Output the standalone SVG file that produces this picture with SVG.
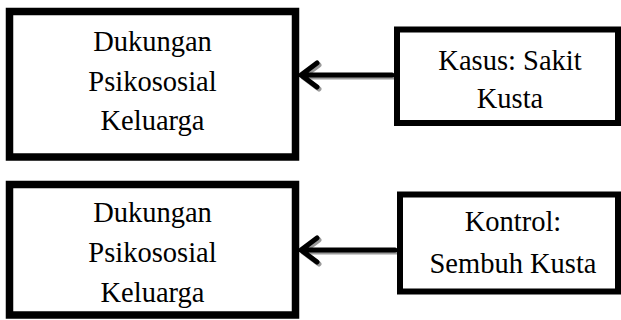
<svg xmlns="http://www.w3.org/2000/svg" width="621" height="320" viewBox="0 0 621 320">
<style>
.box{fill:#fff;stroke:#000}
.big{stroke-width:7.5}
.small{stroke-width:6}
.t{font-size:28.5px;fill:#000;text-anchor:middle}
.arr{fill:none;stroke-width:5;stroke-linecap:round;stroke-linejoin:round}
.sh{stroke:#9a9a9a}
.fg{stroke:#000}
</style>
<rect width="621" height="320" fill="#fff"/>
<g id="connectors">
<g id="arrow-top">
<path class="arr sh" d="M394 77 H303 M319 65 L303 77 L319 89"/>
<path class="arr fg" d="M392 75 H301 M317 63 L301 75 L317 87"/>
</g>
<g id="arrow-bottom">
<path class="arr sh" d="M397 252 H303 M319 240 L303 252 L319 264"/>
<path class="arr fg" d="M395 250 H301 M317 238 L301 250 L317 262"/>
</g>
</g>
<g font-family="Liberation Serif, Times New Roman, DejaVu Serif, serif">
<g id="node-dukungan-1">
<rect class="box big" x="9.5" y="11.5" width="286" height="145.5"/>
<text class="t" x="152.5" y="51">Dukungan</text>
<text class="t" x="152.5" y="91">Psikososial</text>
<text class="t" x="152.5" y="130">Keluarga</text>
</g>
<g id="node-kasus">
<rect class="box small" x="397" y="29.5" width="221" height="93.5"/>
<text class="t" x="510" y="70">Kasus: Sakit</text>
<text class="t" x="510" y="108">Kusta</text>
</g>
<g id="node-dukungan-2">
<rect class="box big" x="9.5" y="184.5" width="286" height="130.5"/>
<text class="t" x="152.5" y="222">Dukungan</text>
<text class="t" x="152.5" y="262">Psikososial</text>
<text class="t" x="152.5" y="302">Keluarga</text>
</g>
<g id="node-kontrol">
<rect class="box small" x="400" y="194.5" width="218" height="97"/>
<text class="t" x="513" y="231">Kontrol:</text>
<text class="t" x="513" y="273">Sembuh Kusta</text>
</g>
</g>
</svg>
